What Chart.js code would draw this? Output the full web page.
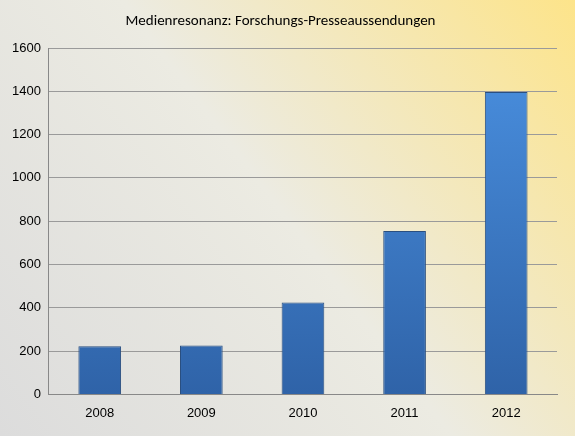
<!DOCTYPE html>
<html><head><meta charset="utf-8">
<script src="https://cdn.jsdelivr.net/npm/chart.js@4"></script>
<style>html,body{margin:0;padding:0;}#w{width:575px;height:436px;}</style>
</head><body><div id="w"><canvas id="c"></canvas></div>
<script>
const categories = ['2008','2009','2010','2011','2012'];
const values = [222, 226, 425, 755, 1397];
const titleText = 'Medienresonanz: Forschungs-Presseaussendungen';

const bgPlugin = {
  id: 'bg',
  beforeDraw(chart) {
    const {ctx, width, height} = chart;
    const g = ctx.createLinearGradient(0, height, width, 0);
    g.addColorStop(0, '#dcdcdc');
    g.addColorStop(0.5, '#ecebe2');
    g.addColorStop(1, '#fde48a');
    ctx.save(); ctx.fillStyle = g; ctx.fillRect(0, 0, width, height); ctx.restore();
  }
};

new Chart(document.getElementById('c'), {
  type: 'bar',
  data: { labels: categories, datasets: [{
    data: values,
    backgroundColor: (ctx) => {
      const a = ctx.chart.chartArea; if (!a) return '#3c7fd0';
      const g = ctx.chart.ctx.createLinearGradient(0, a.top, 0, a.bottom);
      g.addColorStop(0, '#4a90e0'); g.addColorStop(1, '#2f63a8');
      return g;
    },
    borderColor: '#2a4f80', borderWidth: 1,
    categoryPercentage: 1, barPercentage: 0.42
  }]},
  options: {
    responsive: true, maintainAspectRatio: false, animation: false,
    layout: { padding: { left: 4, right: 18, top: 4, bottom: 12 } },
    plugins: {
      legend: { display: false },
      title: { display: true, text: titleText, color: '#000',
        font: { family: 'Carlito, Calibri, "Liberation Sans", sans-serif', size: 15, weight: 'normal' },
        padding: { top: 8, bottom: 18 } },
      tooltip: { enabled: false }
    },
    scales: {
      x: { grid: { display: false }, border: { color: '#888' },
        ticks: { color: '#000', font: { family: '"Liberation Sans", sans-serif', size: 13 } } },
      y: { min: 0, max: 1600, ticks: { stepSize: 200, color: '#000', padding: 8,
          callback: (v) => String(v),
          font: { family: '"Liberation Sans", sans-serif', size: 13 } },
        grid: { color: '#9a9a9a', drawTicks: false }, border: { color: '#888' } }
    }
  },
  plugins: [bgPlugin]
});
</script></body></html>
